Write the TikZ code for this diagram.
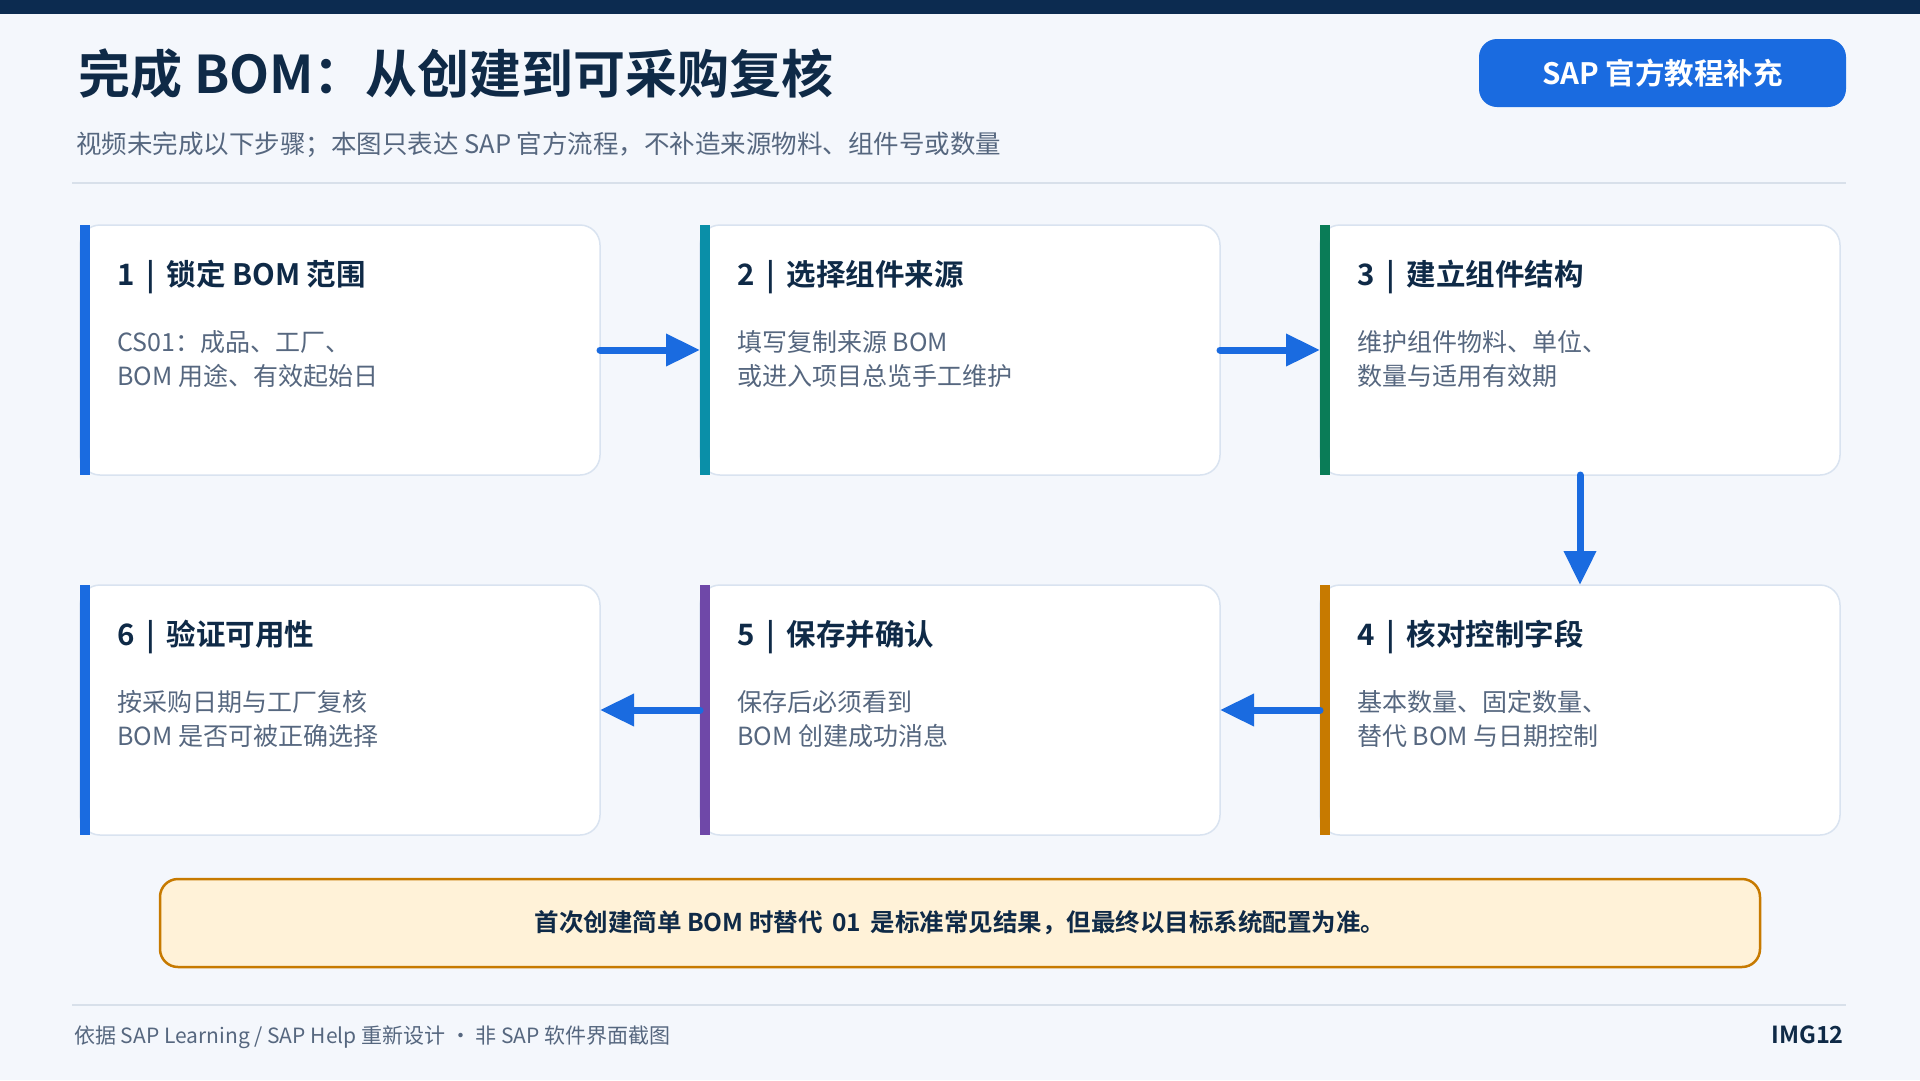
\documentclass[tikz,border=0pt]{standalone}
\usepackage{fontspec}
\setmainfont{Noto Sans CJK SC}[BoldFont={Noto Sans CJK SC Bold}]
\usetikzlibrary{arrows.meta}
\definecolor{topnavy}{HTML}{0C2B50}
\definecolor{pagebg}{HTML}{F4F7FC}
\definecolor{inkdark}{HTML}{0F2A47}
\definecolor{inkgray}{HTML}{56677F}
\definecolor{rulegray}{HTML}{D8E0EA}
\definecolor{cardline}{HTML}{D9E3F0}
\definecolor{sapblue}{HTML}{1A6BE0}
\definecolor{stepteal}{HTML}{0A8FA8}
\definecolor{stepgreen}{HTML}{0A7C57}
\definecolor{steporange}{HTML}{C77A00}
\definecolor{steppurple}{HTML}{6F48A8}
\definecolor{notecream}{HTML}{FFF2D8}
\tikzset{
  headline/.style={anchor=base west,inner sep=0pt,text=inkdark,font=\fontsize{52}{60}\selectfont\bfseries},
  subline/.style={anchor=base west,inner sep=0pt,text=inkgray,font=\fontsize{25.5}{30}\selectfont},
  badge/.style={fill=sapblue,rounded corners=18pt,minimum width=367pt,minimum height=68pt,text=white,font=\fontsize{29.5}{34}\selectfont\bfseries},
  card/.style={draw=cardline,line width=1.5pt,fill=white,rounded corners=20pt,minimum width=520pt,minimum height=250pt,inner sep=0pt,outer sep=0pt},
  cardtitle/.style={anchor=base west,inner sep=0pt,text=inkdark,font=\fontsize{29.5}{34}\selectfont\bfseries},
  cardbody/.style={anchor=base west,inner sep=0pt,text=inkgray,font=\fontsize{25}{30}\selectfont},
  flow/.style={sapblue,line width=7pt,line cap=round,-{Triangle[length=34pt,width=31pt]}},
  note/.style={draw=steporange,line width=2.5pt,fill=notecream,rounded corners=18pt,minimum width=1600pt,minimum height=88pt,text=inkdark,font=\fontsize{24.5}{28}\selectfont\bfseries},
  footline/.style={anchor=base west,inner sep=0pt,text=inkgray,font=\fontsize{21}{25}\selectfont}
}
% name, x, y, bar colour, step number, title, first line, second line
\newcommand{\stepcard}[8]{%
  \node[card] (#1) at (#2,#3) {};
  \fill[#4] (#1.north west) rectangle ([xshift=10pt]#1.south west);
  \node[cardtitle] (#1t) at ([xshift=37pt,yshift=-60pt]#1.north west) {#5\,\ |\ \,#6};
  \node[cardbody] (#1a) at ([xshift=37pt,yshift=-126pt]#1.north west) {#7};
  \node[cardbody] (#1b) at ([xshift=37pt,yshift=-160pt]#1.north west) {#8};
}

\begin{document}
\begin{tikzpicture}[x=1pt,y=-1pt]
	%BACKGROUND
	\fill[pagebg] (0,0) rectangle (1920,1080);
	\useasboundingbox (0,0) rectangle (1920,1080);
	\fill[topnavy] (0,0) rectangle (1920,14);
	
	%HEADER
	\node[headline] (title) at (78,93) {完成 BOM：从创建到可采购复核};
	\node[subline] (subtitle) at (76,153) {视频未完成以下步骤；本图只表达 SAP 官方流程，不补造来源物料、组件号或数量};
	\node[badge] (badge) at (1662.5,73) {SAP 官方教程补充};
	\draw[rulegray,line width=2pt] (72,183)--(1846,183);
	
	%CARDS
	\stepcard{s1}{340}{350}{sapblue}{1}{锁定 BOM 范围}{CS01：成品、工厂、}{BOM 用途、有效起始日}
	\stepcard{s2}{960}{350}{stepteal}{2}{选择组件来源}{填写复制来源 BOM}{或进入项目总览手工维护}
	\stepcard{s3}{1580}{350}{stepgreen}{3}{建立组件结构}{维护组件物料、单位、}{数量与适用有效期}
	\stepcard{s4}{1580}{710}{steporange}{4}{核对控制字段}{基本数量、固定数量、}{替代 BOM 与日期控制}
	\stepcard{s5}{960}{710}{steppurple}{5}{保存并确认}{保存后必须看到}{BOM 创建成功消息}
	\stepcard{s6}{340}{710}{sapblue}{6}{验证可用性}{按采购日期与工厂复核}{BOM 是否可被正确选择}
	
	%ARROWS
	\draw[flow] (s1.east)--(s2.west);
	\draw[flow] (s2.east)--(s3.west);
	\draw[flow] (s3.south)--(s4.north);
	\draw[flow] (s4.west)--(s5.east);
	\draw[flow] (s5.west)--(s6.east);
	
	%NOTE
	\node[note] (note) at (960,923) {首次创建简单 BOM 时替代\ \,01\ \,是标准常见结果，但最终以目标系统配置为准。};
	
	%FOOTER
	\draw[rulegray,line width=2pt] (72,1005)--(1846,1005);
	\node[footline] (source) at (74,1043) {依据 SAP Learning / SAP Help 重新设计 · 非 SAP 软件界面截图};
	\node[footline,anchor=base east,text=inkdark,font=\fontsize{23.5}{27}\selectfont\bfseries] (imgid) at (1844,1043) {IMG12};
\end{tikzpicture}
\end{document}
